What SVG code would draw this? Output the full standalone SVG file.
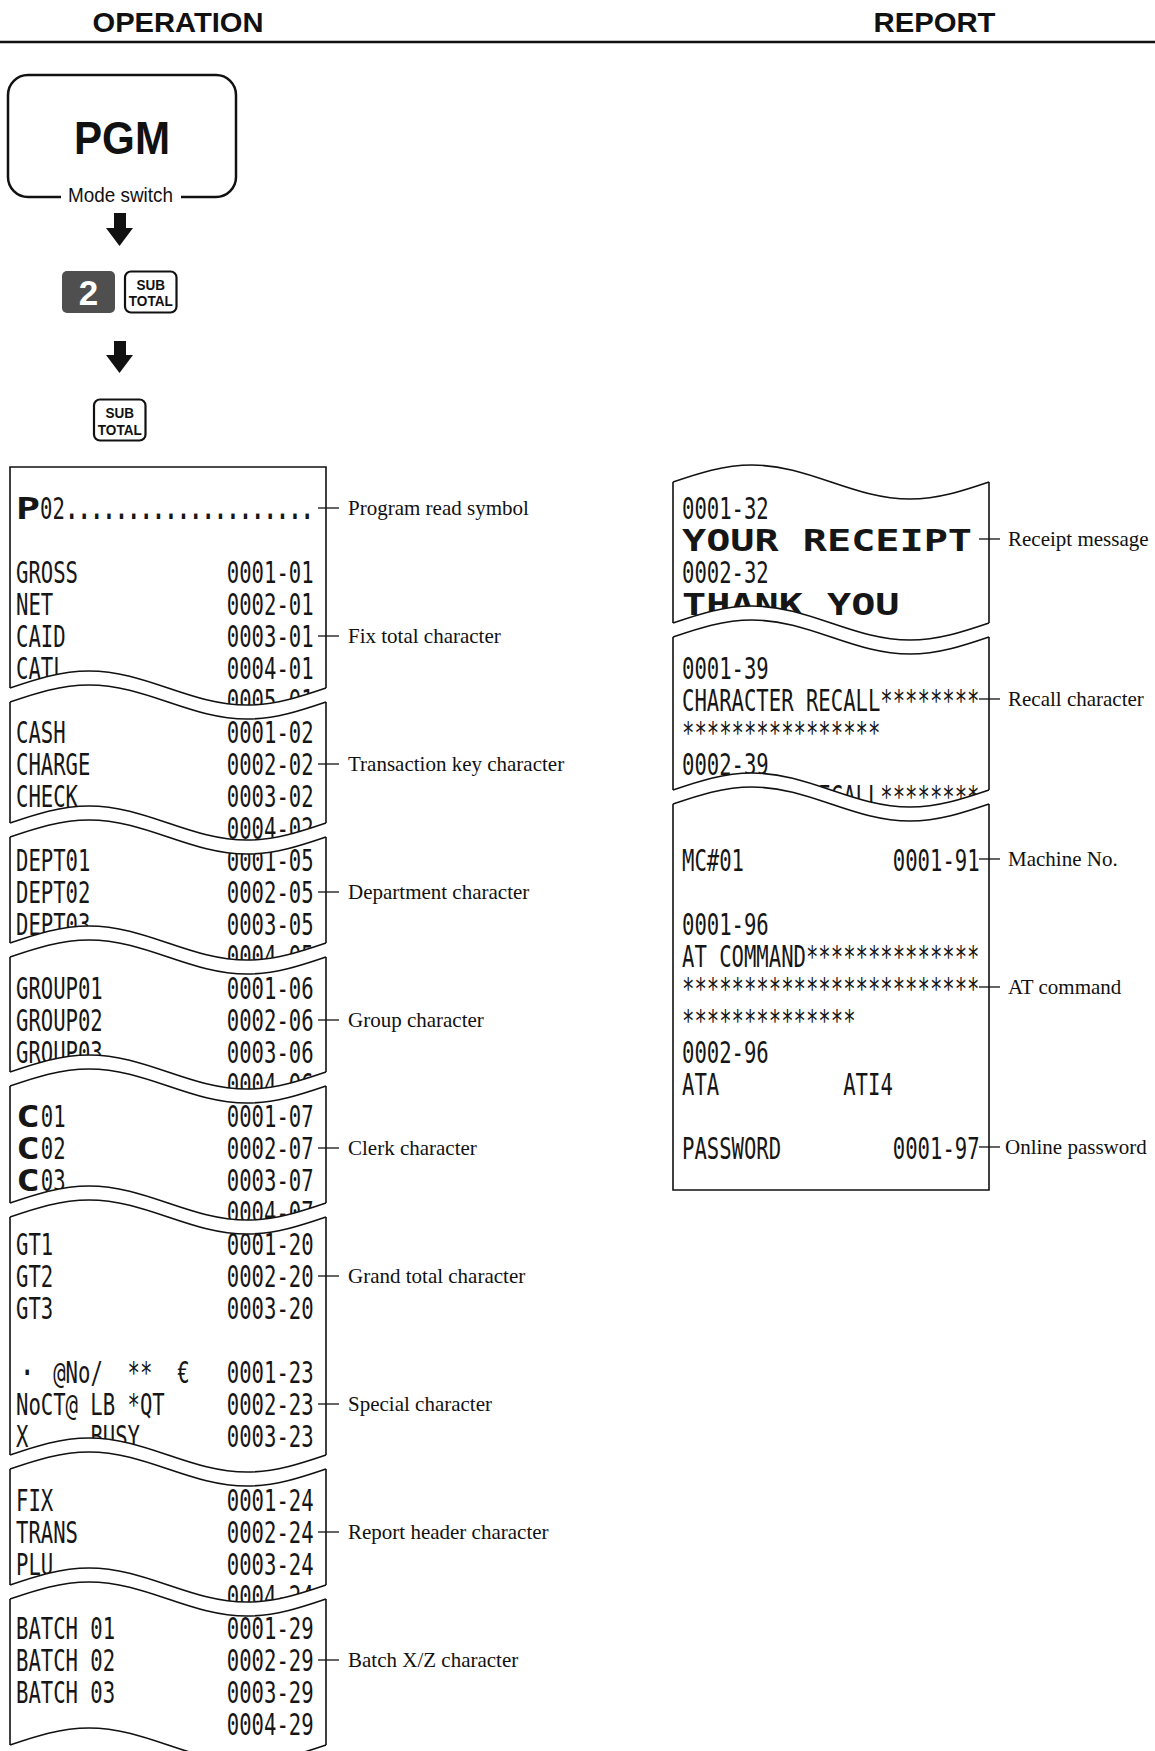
<svg xmlns="http://www.w3.org/2000/svg" width="1155" height="1751" viewBox="0 0 1155 1751">
<style>
.hdr{font-family:"Liberation Sans",Arial,Helvetica,sans-serif;font-weight:bold;font-size:28.5px;fill:#111}
.sans{font-family:"Liberation Sans",Arial,Helvetica,sans-serif;fill:#111}
.lbl{font-family:"Liberation Serif","Times New Roman",serif;font-size:21px;fill:#111}
.r{font-family:"DejaVu Sans Mono",monospace;font-size:30px;fill:#161616}
.rb{font-weight:bold}
.big{font-size:31px;font-weight:bold}
.edge{fill:none;stroke:#111;stroke-width:1.6}
.lead{fill:none;stroke:#111;stroke-width:1.3}
.arrow{fill:#111}
.key{fill:#fff;stroke:#111;stroke-width:2.2}
.keyt{font-family:"Liberation Sans",Arial,sans-serif;font-weight:bold;font-size:15.5px;fill:#111}
</style>
<defs>
<path id="wave" d="M0,0 c25.75,-8.71 50.4,-17 79,-17 c28.6,0 53.25,8.29 79,17 c25.75,8.71 50.4,17 79,17 c28.6,0 53.25,-8.29 79,-17"/>
<clipPath id="cS1"><path d="M10,467 H326 V688 c-25.75,8.71 -50.4,17 -79,17 c-28.6,0 -53.25,-8.29 -79,-17 c-25.75,-8.71 -50.4,-17 -79,-17 c-28.6,0 -53.25,8.29 -79,17 Z"/></clipPath>
<clipPath id="cS2"><path d="M10,702 c25.75,-8.71 50.4,-17 79,-17 c28.6,0 53.25,8.29 79,17 c25.75,8.71 50.4,17 79,17 c28.6,0 53.25,-8.29 79,-17 V823 c-25.75,8.71 -50.4,17 -79,17 c-28.6,0 -53.25,-8.29 -79,-17 c-25.75,-8.71 -50.4,-17 -79,-17 c-28.6,0 -53.25,8.29 -79,17 Z"/></clipPath>
<clipPath id="cS3"><path d="M10,837 c25.75,-8.71 50.4,-17 79,-17 c28.6,0 53.25,8.29 79,17 c25.75,8.71 50.4,17 79,17 c28.6,0 53.25,-8.29 79,-17 V943 c-25.75,8.71 -50.4,17 -79,17 c-28.6,0 -53.25,-8.29 -79,-17 c-25.75,-8.71 -50.4,-17 -79,-17 c-28.6,0 -53.25,8.29 -79,17 Z"/></clipPath>
<clipPath id="cS4"><path d="M10,957 c25.75,-8.71 50.4,-17 79,-17 c28.6,0 53.25,8.29 79,17 c25.75,8.71 50.4,17 79,17 c28.6,0 53.25,-8.29 79,-17 V1072 c-25.75,8.71 -50.4,17 -79,17 c-28.6,0 -53.25,-8.29 -79,-17 c-25.75,-8.71 -50.4,-17 -79,-17 c-28.6,0 -53.25,8.29 -79,17 Z"/></clipPath>
<clipPath id="cS5"><path d="M10,1086 c25.75,-8.71 50.4,-17 79,-17 c28.6,0 53.25,8.29 79,17 c25.75,8.71 50.4,17 79,17 c28.6,0 53.25,-8.29 79,-17 V1203 c-25.75,8.71 -50.4,17 -79,17 c-28.6,0 -53.25,-8.29 -79,-17 c-25.75,-8.71 -50.4,-17 -79,-17 c-28.6,0 -53.25,8.29 -79,17 Z"/></clipPath>
<clipPath id="cS6"><path d="M10,1217 c25.75,-8.71 50.4,-17 79,-17 c28.6,0 53.25,8.29 79,17 c25.75,8.71 50.4,17 79,17 c28.6,0 53.25,-8.29 79,-17 V1455 c-25.75,8.71 -50.4,17 -79,17 c-28.6,0 -53.25,-8.29 -79,-17 c-25.75,-8.71 -50.4,-17 -79,-17 c-28.6,0 -53.25,8.29 -79,17 Z"/></clipPath>
<clipPath id="cS7"><path d="M10,1469 c25.75,-8.71 50.4,-17 79,-17 c28.6,0 53.25,8.29 79,17 c25.75,8.71 50.4,17 79,17 c28.6,0 53.25,-8.29 79,-17 V1585 c-25.75,8.71 -50.4,17 -79,17 c-28.6,0 -53.25,-8.29 -79,-17 c-25.75,-8.71 -50.4,-17 -79,-17 c-28.6,0 -53.25,8.29 -79,17 Z"/></clipPath>
<clipPath id="cS8"><path d="M10,1599 c25.75,-8.71 50.4,-17 79,-17 c28.6,0 53.25,8.29 79,17 c25.75,8.71 50.4,17 79,17 c28.6,0 53.25,-8.29 79,-17 V1745 c-25.75,8.71 -50.4,17 -79,17 c-28.6,0 -53.25,-8.29 -79,-17 c-25.75,-8.71 -50.4,-17 -79,-17 c-28.6,0 -53.25,8.29 -79,17 Z"/></clipPath>
<clipPath id="cR1"><path d="M673,482 c25.75,-8.71 50.4,-17 79,-17 c28.6,0 53.25,8.29 79,17 c25.75,8.71 50.4,17 79,17 c28.6,0 53.25,-8.29 79,-17 V623 c-25.75,8.71 -50.4,17 -79,17 c-28.6,0 -53.25,-8.29 -79,-17 c-25.75,-8.71 -50.4,-17 -79,-17 c-28.6,0 -53.25,8.29 -79,17 Z"/></clipPath>
<clipPath id="cR2"><path d="M673,637 c25.75,-8.71 50.4,-17 79,-17 c28.6,0 53.25,8.29 79,17 c25.75,8.71 50.4,17 79,17 c28.6,0 53.25,-8.29 79,-17 V790 c-25.75,8.71 -50.4,17 -79,17 c-28.6,0 -53.25,-8.29 -79,-17 c-25.75,-8.71 -50.4,-17 -79,-17 c-28.6,0 -53.25,8.29 -79,17 Z"/></clipPath>
<clipPath id="cR3"><path d="M673,804 c25.75,-8.71 50.4,-17 79,-17 c28.6,0 53.25,8.29 79,17 c25.75,8.71 50.4,17 79,17 c28.6,0 53.25,-8.29 79,-17 V1190 H673 Z"/></clipPath>
</defs>

<rect x="0" y="0" width="1155" height="1751" fill="#fff"/>

<g id="header">
<text class="hdr" x="92.5" y="32" textLength="171" lengthAdjust="spacingAndGlyphs">OPERATION</text>
<text class="hdr" x="873.5" y="32" textLength="122" lengthAdjust="spacingAndGlyphs">REPORT</text>
<line x1="0" y1="42" x2="1155" y2="42" stroke="#111" stroke-width="2.6"/>
</g>

<g id="pgm-mode-switch">
<path d="M61,197 H28 A20,20 0 0 1 8,177 V95 A20,20 0 0 1 28,75 H216 A20,20 0 0 1 236,95 V177 A20,20 0 0 1 216,197 H181" fill="none" stroke="#111" stroke-width="2.5"/>
<text class="sans" x="74" y="154" font-size="46" font-weight="bold" textLength="96" lengthAdjust="spacingAndGlyphs">PGM</text>
<text class="sans" x="68" y="202" font-size="19.5" textLength="105" lengthAdjust="spacingAndGlyphs">Mode switch</text>
</g>

<g id="key-2">
<rect x="62" y="271" width="53" height="42" rx="5" fill="#4f4f4f"/>
<text class="sans" x="88.5" y="305" font-size="35" font-weight="bold" text-anchor="middle" style="fill:#fff">2</text>
</g>

<g id="key-subtotal-1">
<rect class="key" x="125" y="271.5" width="51.5" height="41" rx="6"/>
<text class="keyt" x="136.5" y="289.5" textLength="28.5" lengthAdjust="spacingAndGlyphs">SUB</text>
<text class="keyt" x="128.8" y="306" textLength="44" lengthAdjust="spacingAndGlyphs">TOTAL</text>
</g>

<g id="key-subtotal-2">
<rect class="key" x="94" y="399.5" width="51.5" height="41" rx="6"/>
<text class="keyt" x="105.5" y="418" textLength="28.5" lengthAdjust="spacingAndGlyphs">SUB</text>
<text class="keyt" x="97.8" y="434.5" textLength="44" lengthAdjust="spacingAndGlyphs">TOTAL</text>
</g>

<g id="receipt-program-read">
<g class="edge">
<path d="M10,688 V467 H326 V688"/>
<use href="#wave" x="10" y="688"/>
<use href="#wave" x="10" y="702"/>
<path d="M10,702 V823 M326,702 V823"/>
<use href="#wave" x="10" y="823"/>
<use href="#wave" x="10" y="837"/>
<path d="M10,837 V943 M326,837 V943"/>
<use href="#wave" x="10" y="943"/>
<use href="#wave" x="10" y="957"/>
<path d="M10,957 V1072 M326,957 V1072"/>
<use href="#wave" x="10" y="1072"/>
<use href="#wave" x="10" y="1086"/>
<path d="M10,1086 V1203 M326,1086 V1203"/>
<use href="#wave" x="10" y="1203"/>
<use href="#wave" x="10" y="1217"/>
<path d="M10,1217 V1455 M326,1217 V1455"/>
<use href="#wave" x="10" y="1455"/>
<use href="#wave" x="10" y="1469"/>
<path d="M10,1469 V1585 M326,1469 V1585"/>
<use href="#wave" x="10" y="1585"/>
<use href="#wave" x="10" y="1599"/>
<path d="M10,1599 V1745 M326,1599 V1745"/>
<use href="#wave" x="10" y="1745"/>
</g>

<g clip-path="url(#cS1)"><g transform="translate(16 0) scale(0.6866 1)">
<text class="r rb" transform="scale(1.94 1)" x="0" y="519">P</text>
<text class="r" x="35" y="519">02</text>
<text class="r rb" x="72.25" y="519">....................</text>
<text class="r" x="0" y="583">GROSS</text>
<text class="r" x="0" y="615">NET</text>
<text class="r" x="0" y="647">CAID</text>
<text class="r" x="0" y="679">CATL</text>
<text class="r" x="307.05" y="583">0001-01</text>
<text class="r" x="307.05" y="615">0002-01</text>
<text class="r" x="307.05" y="647">0003-01</text>
<text class="r" x="307.05" y="679">0004-01</text>
<text class="r" x="307.05" y="711">0005-01</text>
</g></g>
<g clip-path="url(#cS2)"><g transform="translate(16 0) scale(0.6866 1)">
<text class="r" x="0" y="743">CASH</text>
<text class="r" x="0" y="775">CHARGE</text>
<text class="r" x="0" y="807">CHECK</text>
<text class="r" x="307.05" y="743">0001-02</text>
<text class="r" x="307.05" y="775">0002-02</text>
<text class="r" x="307.05" y="807">0003-02</text>
<text class="r" x="307.05" y="839">0004-02</text>
</g></g>
<g clip-path="url(#cS3)"><g transform="translate(16 0) scale(0.6866 1)">
<text class="r" x="0" y="871">DEPT01</text>
<text class="r" x="0" y="903">DEPT02</text>
<text class="r" x="0" y="935">DEPT03</text>
<text class="r" x="307.05" y="871">0001-05</text>
<text class="r" x="307.05" y="903">0002-05</text>
<text class="r" x="307.05" y="935">0003-05</text>
<text class="r" x="307.05" y="967">0004-05</text>
</g></g>
<g clip-path="url(#cS4)"><g transform="translate(16 0) scale(0.6866 1)">
<text class="r" x="0" y="999">GROUP01</text>
<text class="r" x="0" y="1031">GROUP02</text>
<text class="r" x="0" y="1063">GROUP03</text>
<text class="r" x="307.05" y="999">0001-06</text>
<text class="r" x="307.05" y="1031">0002-06</text>
<text class="r" x="307.05" y="1063">0003-06</text>
<text class="r" x="307.05" y="1095">0004-06</text>
</g></g>
<g clip-path="url(#cS5)"><g transform="translate(16 0) scale(0.6866 1)">
<text class="r rb" transform="scale(1.94 1)" x="0" y="1127">C</text>
<text class="r" x="36.12" y="1127">01</text>
<text class="r rb" transform="scale(1.94 1)" x="0" y="1159">C</text>
<text class="r" x="36.12" y="1159">02</text>
<text class="r rb" transform="scale(1.94 1)" x="0" y="1191">C</text>
<text class="r" x="36.12" y="1191">03</text>
<text class="r" x="307.05" y="1127">0001-07</text>
<text class="r" x="307.05" y="1159">0002-07</text>
<text class="r" x="307.05" y="1191">0003-07</text>
<text class="r" x="307.05" y="1223">0004-07</text>
</g></g>
<g clip-path="url(#cS6)"><g transform="translate(16 0) scale(0.6866 1)">
<text class="r" x="0" y="1255">GT1</text>
<text class="r" x="0" y="1287">GT2</text>
<text class="r" x="0" y="1319">GT3</text>
<text class="r" x="307.05" y="1255">0001-20</text>
<text class="r" x="307.05" y="1287">0002-20</text>
<text class="r" x="307.05" y="1319">0003-20</text>
<text class="r rb" x="7.3" y="1383">·</text>
<text class="r" x="54.18" y="1383">@No/</text>
<text class="r" x="162.55" y="1383">**</text>
<text class="r" x="234.8" y="1383">€</text>
<text class="r" x="0" y="1415">NoCT@ LB *QT</text>
<text class="r" x="0" y="1447">X</text>
<text class="r" x="108.37" y="1447">BUSY</text>
<text class="r" x="307.05" y="1383">0001-23</text>
<text class="r" x="307.05" y="1415">0002-23</text>
<text class="r" x="307.05" y="1447">0003-23</text>
</g></g>
<g clip-path="url(#cS7)"><g transform="translate(16 0) scale(0.6866 1)">
<text class="r" x="0" y="1511">FIX</text>
<text class="r" x="0" y="1543">TRANS</text>
<text class="r" x="0" y="1575">PLU</text>
<text class="r" x="307.05" y="1511">0001-24</text>
<text class="r" x="307.05" y="1543">0002-24</text>
<text class="r" x="307.05" y="1575">0003-24</text>
<text class="r" x="307.05" y="1607">0004-24</text>
</g></g>
<g clip-path="url(#cS8)"><g transform="translate(16 0) scale(0.6866 1)">
<text class="r" x="0" y="1639">BATCH 01</text>
<text class="r" x="0" y="1671">BATCH 02</text>
<text class="r" x="0" y="1703">BATCH 03</text>
<text class="r" x="307.05" y="1639">0001-29</text>
<text class="r" x="307.05" y="1671">0002-29</text>
<text class="r" x="307.05" y="1703">0003-29</text>
<text class="r" x="307.05" y="1735">0004-29</text>
</g></g>
</g>

<g id="receipt-report">
<g class="edge">
<use href="#wave" x="673" y="482"/>
<path d="M673,482 V623 M989,482 V623"/>
<use href="#wave" x="673" y="623"/>
<use href="#wave" x="673" y="637"/>
<path d="M673,637 V790 M989,637 V790"/>
<use href="#wave" x="673" y="790"/>
<use href="#wave" x="673" y="804"/>
<path d="M673,804 V1190 H989 V804"/>
</g>
<g clip-path="url(#cR1)"><g transform="translate(682 0) scale(0.6866 1)">
<text class="r" x="0" y="519">0001-32</text>
<text class="r big" transform="scale(1.886 1)" x="0" y="551">YOUR RECEIPT</text>
<text class="r" x="0" y="583">0002-32</text>
<text class="r big" transform="scale(1.886 1)" x="0" y="615">THANK YOU</text>
</g></g>
<g clip-path="url(#cR2)"><g transform="translate(682 0) scale(0.6866 1)">
<text class="r" x="0" y="679">0001-39</text>
<text class="r" x="0" y="711">CHARACTER RECALL********</text>
<text class="r" x="0" y="743">****************</text>
<text class="r" x="0" y="775">0002-39</text>
<text class="r" x="0" y="807">CHARACTER RECALL********</text>
</g></g>
<g clip-path="url(#cR3)"><g transform="translate(682 0) scale(0.6866 1)">
<text class="r" x="0" y="871">MC#01</text>
<text class="r" x="307.05" y="871">0001-91</text>
<text class="r" x="0" y="935">0001-96</text>
<text class="r" x="0" y="967">AT COMMAND**************</text>
<text class="r" x="0" y="999">************************</text>
<text class="r" x="0" y="1031">**************</text>
<text class="r" x="0" y="1063">0002-96</text>
<text class="r" x="0" y="1095">ATA</text>
<text class="r" x="234.8" y="1095">ATI4</text>
<text class="r" x="0" y="1159">PASSWORD</text>
<text class="r" x="307.05" y="1159">0001-97</text>
</g></g>
</g>

<g id="labels">
<text class="lbl" x="348" y="515">Program read symbol</text>
<text class="lbl" x="348" y="643">Fix total character</text>
<text class="lbl" x="348" y="771">Transaction key character</text>
<text class="lbl" x="348" y="899">Department character</text>
<text class="lbl" x="348" y="1027">Group character</text>
<text class="lbl" x="348" y="1155">Clerk character</text>
<text class="lbl" x="348" y="1283">Grand total character</text>
<text class="lbl" x="348" y="1411">Special character</text>
<text class="lbl" x="348" y="1539">Report header character</text>
<text class="lbl" x="348" y="1667">Batch X/Z character</text>
<text class="lbl" x="1008" y="546">Receipt message</text>
<text class="lbl" x="1008" y="706">Recall character</text>
<text class="lbl" x="1008" y="866">Machine No.</text>
<text class="lbl" x="1008" y="994">AT command</text>
<text class="lbl" x="1005" y="1154">Online password</text>
</g>

<g id="connectors">
<polygon class="arrow" points="114,213 126,213 126,228 133,228 119.5,246 106,228 114,228"/>
<polygon class="arrow" points="114,341 126,341 126,355 133,355 119.5,373 106,355 114,355"/>
<g class="lead">
<path d="M318,508 H339"/>
<path d="M318,636 H339"/>
<path d="M318,764 H339"/>
<path d="M318,892 H339"/>
<path d="M318,1020 H339"/>
<path d="M318,1148 H339"/>
<path d="M318,1276 H339"/>
<path d="M318,1404 H339"/>
<path d="M318,1532 H339"/>
<path d="M318,1660 H339"/>
<path d="M979,539 H1000"/>
<path d="M979,699 H1000"/>
<path d="M979,859 H1000"/>
<path d="M979,987 H1000"/>
<path d="M979,1147 H1000"/>
</g>
</g>
</svg>
